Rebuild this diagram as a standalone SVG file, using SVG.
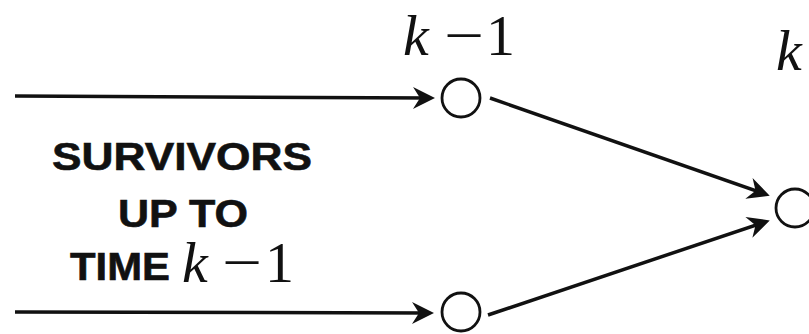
<svg xmlns="http://www.w3.org/2000/svg" width="809" height="334" viewBox="0 0 809 334">
  <style>
    .edge { stroke: #111; stroke-width: 3.5; fill: none; marker-end: url(#head); }
    .node { fill: #fff; stroke: #111; stroke-width: 2.8; }
    .label { font-family: "Liberation Sans", Arial, sans-serif; font-weight: bold; font-size: 38px; fill: #111; stroke: #111; stroke-width: 0.6; }
    .math { font-family: "Liberation Serif", "Times New Roman", serif; font-size: 58px; fill: #111; }
    .var { font-style: italic; }
  </style>
  <defs>
    <marker id="head" markerUnits="userSpaceOnUse" markerWidth="30" markerHeight="30" refX="0" refY="0" orient="auto" overflow="visible">
      <path d="M5,0 L-17,-11 L-10,0 L-17,11 Z" fill="#111"/>
    </marker>
  </defs>
  <rect width="809" height="334" fill="#fff"/>

  <!-- connectors -->
  <g id="connectors">
    <line class="edge" x1="15" y1="96" x2="430" y2="98"/>
    <line class="edge" x1="15" y1="312" x2="429" y2="313"/>
    <line class="edge" x1="490" y1="98" x2="765" y2="194"/>
    <line class="edge" x1="488" y1="315" x2="765" y2="222"/>
  </g>

  <!-- stage k-1, upper state -->
  <g id="node-upper">
    <circle class="node" cx="461" cy="98" r="19"/>
  </g>

  <!-- stage k-1, lower state -->
  <g id="node-lower">
    <circle class="node" cx="461" cy="312" r="19"/>
  </g>

  <!-- stage k state -->
  <g id="node-k">
    <circle class="node" cx="795" cy="208" r="19"/>
  </g>

  <!-- time index labels -->
  <g id="label-k-minus-1">
    <text class="math var" x="403" y="55">k</text>
    <text class="math" x="444" y="55" textLength="40" lengthAdjust="spacingAndGlyphs">−</text>
    <text class="math" x="486" y="55">1</text>
  </g>
  <g id="label-k">
    <text class="math var" x="776" y="70">k</text>
  </g>

  <!-- side caption -->
  <g id="caption">
    <text class="label" x="52" y="170" textLength="260" lengthAdjust="spacingAndGlyphs">SURVIVORS</text>
    <text class="label" x="118" y="227" textLength="130" lengthAdjust="spacingAndGlyphs">UP TO</text>
    <text class="label" x="70" y="280" textLength="100" lengthAdjust="spacingAndGlyphs">TIME</text>
    <text class="math var" x="182" y="282">k</text>
    <text class="math" x="222" y="282" textLength="40" lengthAdjust="spacingAndGlyphs">−</text>
    <text class="math" x="265" y="282">1</text>
  </g>
</svg>
